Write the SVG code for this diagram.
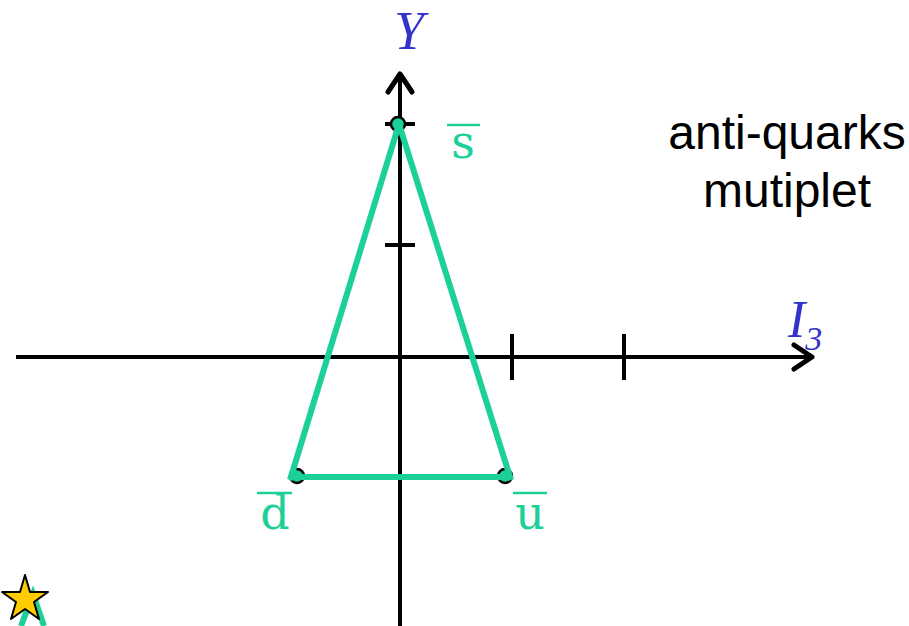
<svg xmlns="http://www.w3.org/2000/svg" width="909" height="626" viewBox="0 0 909 626">
<defs>
<style>
.ax{stroke:#000;stroke-width:4;fill:none}
.hd{stroke:#000;stroke-width:5;fill:none;stroke-linecap:round;stroke-linejoin:round}
.gr{stroke:#1dcf98;stroke-width:6;fill:none}
.dot{fill:#1dcf98;stroke:#000;stroke-width:2.5}
.lbl{font-family:"DejaVu Serif","Liberation Serif",serif;font-size:46px;fill:#1dcf98}
.ax-lbl{font-family:"Liberation Serif","DejaVu Serif",serif;font-style:italic;fill:#3333cc}
.txt{font-family:"Liberation Sans",Arial,sans-serif;font-size:48px;fill:#000;text-anchor:middle}
.ov{stroke:#1dcf98;stroke-width:2.5}
</style>
</defs>
<rect width="909" height="626" fill="#fff"/>
<g id="axes">
<line class="ax" x1="16" y1="357" x2="812" y2="357"/>
<polyline class="hd" points="794,345 812,357 794,369"/>
<line class="ax" x1="400" y1="626" x2="400" y2="74"/>
<polyline class="hd" points="388,92 400,74 412,92"/>
<line class="ax" x1="512" y1="334" x2="512" y2="380"/>
<line class="ax" x1="624" y1="334" x2="624" y2="380"/>
<line class="ax" x1="385" y1="124" x2="415" y2="124"/>
<line class="ax" x1="385" y1="245" x2="415" y2="245"/>
<line class="ax" x1="385" y1="477" x2="415" y2="477"/>
<text class="ax-lbl" x="409" y="49" font-size="54" text-anchor="middle">Y</text>
<text class="ax-lbl" x="788" y="337" font-size="52">I<tspan font-size="34" dy="13">3</tspan></text>
</g>
<g id="dots">
<circle class="dot" cx="398" cy="124" r="7"/>
<circle class="dot" cx="297" cy="476" r="7"/>
<circle class="dot" cx="505" cy="476" r="7"/>
</g>
<g id="connectors">
<line class="gr" x1="399" y1="124" x2="290" y2="480"/>
<line class="gr" x1="399" y1="124" x2="511" y2="480"/>
<line class="gr" x1="295" y1="477" x2="507" y2="477"/>
</g>
<g id="node-s">
<line class="ov" x1="447" y1="125" x2="480" y2="125"/>
<text class="lbl" x="463" y="158" text-anchor="middle">s</text>
</g>
<g id="node-d">
<line class="ov" x1="257" y1="493" x2="292" y2="493"/>
<text class="lbl" x="275" y="529" text-anchor="middle">d</text>
</g>
<g id="node-u">
<line class="ov" x1="513" y1="493" x2="547" y2="493"/>
<text class="lbl" x="530" y="529" text-anchor="middle">u</text>
</g>
<g id="title">
<text class="txt" x="787" y="149">anti-quarks</text>
<text class="txt" x="787" y="207">mutiplet</text>
</g>
<g id="star">
<polyline class="gr" points="21,626 33,594 44,626"/>
<polygon points="25,575 30,592 48,592 34,602 39,619 25,609 11,619 16,602 2,592 20,592" fill="#ffcc00" stroke="#000" stroke-width="2" stroke-linejoin="round"/>
</g>
</svg>
